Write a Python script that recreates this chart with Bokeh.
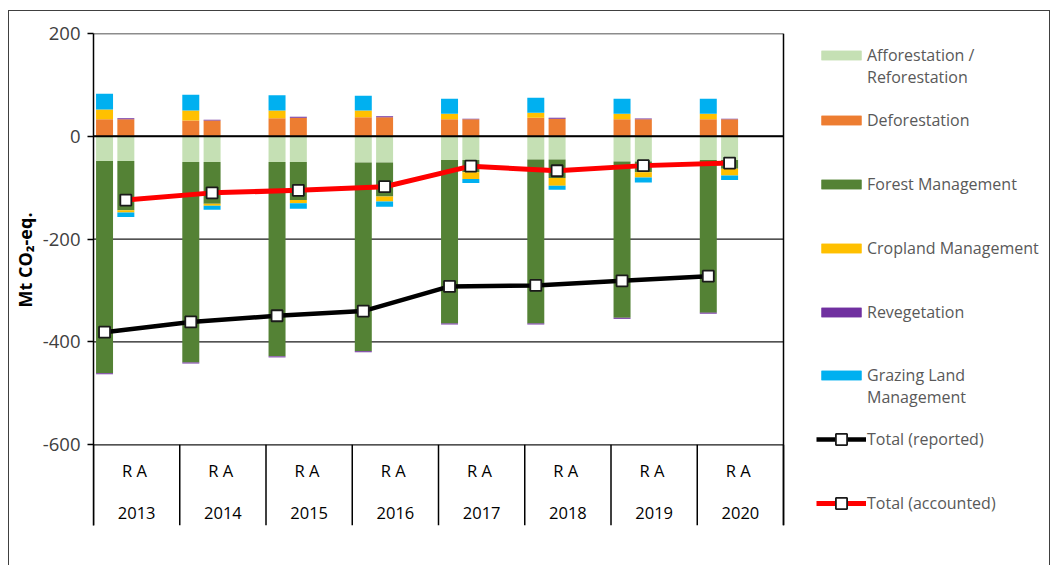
import numpy as np
from bokeh.plotting import figure
from bokeh.models import (FixedTicker, Legend, LegendItem, Title, Range1d)
from bokeh.core.properties import value
from bokeh.embed import file_html
from bokeh.resources import INLINE

# ---------------- data ----------------
years = ["2013", "2014", "2015", "2016", "2017", "2018", "2019", "2020"]
sub_labels = ["R  A"] * len(years)

# two-line names carry a leading blank line so the swatch sits beside their first line
series_names = ["\nAfforestation /\nReforestation", "Deforestation", "Forest Management",
                "Cropland Management", "Revegetation", "\nGrazing Land\nManagement"]
series_colors = ["#C5E0B4", "#ED7D31", "#548235", "#FFC000", "#7030A0", "#00B0F0"]

# Reported (R) bars, Mt CO2-eq.
ar_r = [-48, -50, -50, -51, -46, -45, -49, -46]
d_r = [33, 31, 35, 37, 33, 36, 33, 33]
fm_r = [-413, -390, -378, -367, -318, -319, -304, -297]
cm_r = [19, 19, 15, 13, 11, 10, 11, 11]
rv_r = [-2, -2, -2, -2, -2, -2, -2, -2]
glm_r = [31, 31, 30, 29, 29, 29, 29, 29]

# Accounted (A) bars, Mt CO2-eq.
ar_a = [-48, -50, -50, -51, -46, -45, -49, -46]
d_a = [33, 31, 36, 37, 33, 34, 33, 33]
fm_a = [-96, -81, -74, -66, -24, -36, -21, -17]
cm_a = [-4, -4, -6, -10, -13, -15, -10, -13]
rv_a = [2, 1, 2, 2, 1, 2, 1.5, 1]
glm_a = [-9, -8, -11, -10, -8, -8, -10, -9]

total_reported = [-381, -361, -349, -340, -292, -290, -281, -272]
total_accounted = [-124, -110, -105, -98, -58, -67, -57, -52]

y_ticks = [-600, -400, -200, 0, 200]
y_tick_labels = ["-600", "-400", "-200", "0", "200"]
y_min, y_max = -757, 200   # bottom of the category band .. top of the value axis


def stack(series_list):
    m = len(series_list[0])
    pos = np.zeros(m)
    neg = np.zeros(m)
    out = []
    for vals in series_list:
        v = np.asarray(vals, dtype=float)
        bottom = np.where(v >= 0, pos, neg)
        top = bottom + v
        pos = np.where(v >= 0, top, pos)
        neg = np.where(v < 0, top, neg)
        out.append((bottom, top))
    return out


n = len(years)
idx = np.arange(n)
x_r = idx + 0.128
x_a = idx + 0.375
bar_w = 0.197
x_end = n * 961 / 690   # plot area spans 690 px; legend area lies to its right

FONT = "Open Sans"

p = figure(width=1054, height=565, x_range=Range1d(0, x_end), y_range=Range1d(y_min, y_max),
           output_backend="svg", toolbar_location=None, x_axis_location=None,
           min_border_left=93, min_border_right=0, min_border_top=33, min_border_bottom=40)
p.outline_line_color = None
p.border_fill_color = None
p.background_fill_color = None
p.styles = {
    "background": ("linear-gradient(#404040,#404040) 8px 10px / 1px 560px no-repeat, "
                   "linear-gradient(#404040,#404040) 8px 10px / 1042px 1px no-repeat, "
                   "linear-gradient(#404040,#404040) 1049px 10px / 1px 560px no-repeat")
}

# value axis
ticker = FixedTicker(ticks=y_ticks)
ax = p.yaxis[0]
ax.ticker = ticker
ax.major_label_overrides = dict(zip(y_ticks, y_tick_labels))
ax.minor_tick_line_color = None
ax.major_tick_in = 0
ax.major_tick_out = 6
ax.major_tick_line_color = "black"
ax.major_tick_line_width = 1.5
ax.axis_line_color = "black"
ax.axis_line_width = 1.5
ax.major_label_text_font = FONT
ax.major_label_text_font_size = "18.5px"
ax.major_label_text_color = "#404040"
ax.major_label_standoff = 7
p.xgrid.visible = False
p.ygrid.visible = False

p.add_layout(Title(text="Mt CO\u2082-eq.", align="left", offset=218, text_font=FONT,
                   text_font_size="18px", text_font_style="bold", text_color="black",
                   standoff=6), "left")

# horizontal grid lines limited to the plot area
p.segment(x0=[0] * len(y_ticks), x1=[n] * len(y_ticks), y0=y_ticks, y1=y_ticks,
          line_color="#1a1a1a", line_width=1.3)

# stacked bars
stacks_r = stack([ar_r, d_r, fm_r, cm_r, rv_r, glm_r])
stacks_a = stack([ar_a, d_a, fm_a, cm_a, rv_a, glm_a])
bar_renderers = []
for (br, tr), (ba, ta), col in zip(stacks_r, stacks_a, series_colors):
    r1 = p.vbar(x=x_r, bottom=br, top=tr, width=bar_w, fill_color=col, line_color=None)
    r2 = p.vbar(x=x_a, bottom=ba, top=ta, width=bar_w, fill_color=col, line_color=None)
    bar_renderers.append([r1, r2])

# zero line and right border of the plot area
p.segment(x0=[0], x1=[n], y0=[0], y1=[0], line_color="black", line_width=2)
p.segment(x0=[n], x1=[n], y0=[y_min], y1=[y_max], line_color="black", line_width=1.5)

# totals
l1 = p.line(x_r, total_reported, line_color="black", line_width=4.5)
m1 = p.scatter(x_r, total_reported, marker="square", size=11, fill_color="white",
               line_color="#1a1a1a", line_width=1.8)
l2 = p.line(x_a, total_accounted, line_color="#FF0000", line_width=5)
m2 = p.scatter(x_a, total_accounted, marker="square", size=11, fill_color="white",
               line_color="#1a1a1a", line_width=1.8)

# two-level category axis
bounds = list(range(n + 1))
p.segment(x0=bounds, y0=[y_ticks[0]] * (n + 1), x1=bounds, y1=[y_min] * (n + 1),
          line_color="black", line_width=1.5)
p.text(x=idx + 0.5, y=[-650] * n, text=sub_labels, text_font=value(FONT),
       text_font_size="16.5px", text_align="center", text_baseline="middle", text_color="black")
p.text(x=idx + 0.5, y=[-732] * n, text=years, text_font=value(FONT),
       text_font_size="16.5px", text_align="center", text_baseline="middle", text_color="black")

# legends (one per entry, placed right of the plot area)
leg_common = dict(glyph_width=50, label_standoff=1, padding=0, margin=0, spacing=0,
                  border_line_color=None, background_fill_alpha=0,
                  label_text_font=FONT, label_text_font_size="16px", label_text_color="#595959")
bar_vy = [437, 394.5, 330.5, 266.5, 202, 117]
for name, rends, vy in zip(series_names, bar_renderers, bar_vy):
    lg = Legend(items=[LegendItem(label=name, renderers=rends)], location=(723, vy),
                glyph_height=12, **leg_common)
    p.add_layout(lg)
for name, rends, vy in zip(["Total (reported)", "Total (accounted)"], [[l1, m1], [l2, m2]], [72, 8]):
    lg = Legend(items=[LegendItem(label=name, renderers=rends)], location=(723, vy),
                glyph_height=28, **leg_common)
    p.add_layout(lg)

open("out.html", "w").write(file_html(p, INLINE))
